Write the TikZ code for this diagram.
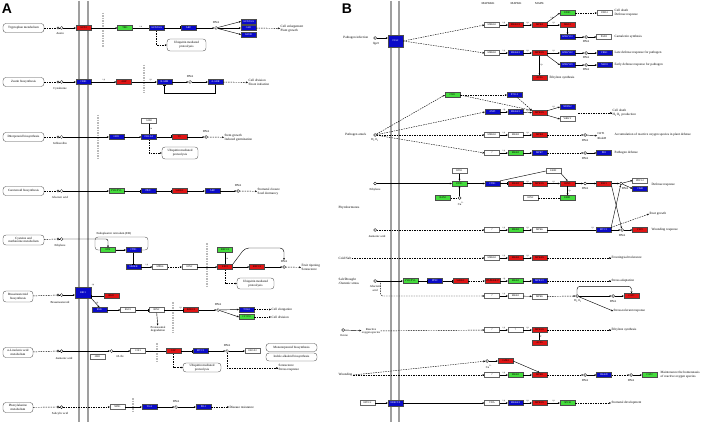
\documentclass[tikz,border=0pt]{standalone}
\usepackage{fontspec}
\setmainfont{Liberation Serif}
\setsansfont{Liberation Sans}
\usetikzlibrary{arrows.meta}

\begin{document}
\begin{tikzpicture}[x=1pt, y=-1pt, line width=0.42pt,
    >={Stealth[length=2pt,width=1.8pt]},
    gene/.style={rectangle, draw=black!70, line width=0.25pt, minimum width=15pt, minimum height=5pt, inner sep=0pt, font=\fontsize{2.6}{3}\selectfont},
    rgene/.style={gene, fill=kred},
    bgene/.style={gene, fill=kblue, text=white},
    ggene/.style={gene, fill=kgreen},
    wgene/.style={gene, fill=white, draw=black!60},
    mapbox/.style={rectangle, rounded corners=3pt, draw=black!70, line width=0.35pt, minimum width=41pt, minimum height=9pt, inner sep=0.5pt, align=center, font=\fontsize{3.2}{3.6}\selectfont},
    cpd/.style={circle, draw, line width=0.35pt, fill=white, minimum size=3pt, inner sep=0pt},
    txt/.style={inner sep=0.5pt, align=left, font=\fontsize{3.3}{3.8}\selectfont},
    lbl/.style={inner sep=0.3pt, font=\fontsize{3}{3.3}\selectfont},
    plab/.style={inner sep=0.3pt, above, font=\fontsize{2.4}{2.6}\selectfont},
    act/.style={->},
    dact/.style={->, dash pattern=on 1.5pt off 1pt},
    dline/.style={dash pattern=on 1.5pt off 1pt},
    inh/.style={-{Bar[width=3pt]}},
    nucl/.style={draw=gray!55, line width=1.3pt, dash pattern=on 1.5pt off 1pt},
    membrane/.style={draw=gray!75, line width=1.2pt}]
    \definecolor{kred}{HTML}{E01414}
    \definecolor{kblue}{HTML}{0A0AC8}
    \definecolor{kgreen}{HTML}{44DC3C}
    \path[use as bounding box, fill=white] (0,0) rectangle (708,422);
    %\draw[help lines, step=10] (0,0) grid (708,422);

    %% panel A
    \node[font=\sffamily\bfseries\fontsize{14}{14}\selectfont] (labA) at (7,9) {A};
    \draw[membrane] (79,1) -- (79,422);
    \draw[membrane] (88,1) -- (88,422);
    \draw[nucl] (103,13) -- (103,48);
    \draw[nucl] (144,65) -- (144,93);
    \draw[nucl] (98,115) -- (98,160);
    \draw[nucl] (207,243) -- (207,288);
    \draw[nucl] (173,302) -- (173,333);
    \draw[nucl] (157,343) -- (157,361);
    \draw[nucl] (133,398) -- (133,413);

    % auxin
    \node[mapbox] (trp) at (23.5,28) {Tryptophan metabolism};
    \node[cpd, minimum size=2.4pt] (auxA) at (58,28) {};
    \node[cpd] (aux) at (61.5,28) {};
    \node[lbl] (auxL) at (60,33.5) {Auxin};
    \node[rgene] (aux1) at (83.5,28) {AUX1};
    \node[ggene] (tir1) at (125,28) {TIR1};
    \node[bgene] (iaa) at (156.5,28) {AUX/IAA};
    \node[bgene] (arf) at (188.5,28) {ARF};
    \node[cpd] (dnaA1) at (216,28) {};
    \node[lbl] (dnaA1L) at (216,22.5) {DNA};
    \node[bgene] (iaa2) at (248.5,21.5) {AUX/IAA};
    \node[bgene] (gh3) at (248.5,28) {GH3};
    \node[bgene] (saur) at (248.5,34.5) {SAUR};
    \node[txt, anchor=west] (growA) at (280,28.5) {Cell enlargement\\Plant growth};
    \node[mapbox, minimum width=39pt, minimum height=12pt] (ubA1) at (186.5,45) {Ubiquitin mediated\\proteolysis};
    \draw[dline] (trp) -- (auxA);
    \draw (auxA) -- (aux);
    \draw[act] (aux) -- (aux1);
    \draw[act] (aux1) -- (tir1);
    \draw (tir1) -- node[plab] {+u} (iaa);
    \draw[inh] (iaa) -- (arf);
    \draw[act] (arf) -- (dnaA1);
    \draw[act] (dnaA1) -- (iaa2.west);
    \draw[act] (dnaA1) -- (gh3.west);
    \draw[act] (dnaA1) -- (saur.west);
    \draw[dact] (gh3) -- (growA);
    \draw[dact] (iaa.south) |- (ubA1.west);

    % cytokinine
    \node[mapbox] (zea) at (23.5,82) {Zeatin biosynthesis};
    \node[cpd, minimum size=2.4pt] (ckA) at (58,82) {};
    \node[cpd] (ck) at (61.5,82) {};
    \node[lbl] (ckL) at (60,88.5) {Cytokinine};
    \node[bgene] (cre1) at (83.5,82) {CRE1};
    \node[rgene] (ahp) at (124,82) {AHP};
    \node[bgene] (barr) at (164.5,82) {B-ARR};
    \node[cpd] (dnaA2) at (190,82) {};
    \node[lbl] (dnaA2L) at (190,76.5) {DNA};
    \node[bgene] (aarr) at (215.5,82) {A-ARR};
    \node[txt, anchor=west] (divA) at (248,82.5) {Cell division\\Shoot initiation};
    \draw[dline] (zea) -- (ckA);
    \draw (ckA) -- (ck);
    \draw[act] (ck) -- (cre1);
    \draw[act] (cre1) -- node[plab] {+p} (ahp);
    \draw[act] (ahp) -- node[plab, pos=0.75] {+p} (barr);
    \draw[act] (barr) -- (dnaA2);
    \draw[act] (dnaA2) -- (aarr);
    \draw[dact] (aarr) -- (divA);
    \draw[inh] (aarr.south) -- ++(0,9) -| (barr.south);

    % gibberellin
    \node[mapbox] (dit) at (23.5,137) {Diterpenoid biosynthesis};
    \node[cpd, minimum size=2.4pt] (gaA) at (58,137) {};
    \node[cpd] (ga) at (61.5,137) {};
    \node[lbl] (gaL) at (60,143.5) {Gibberellin};
    \node[bgene] (gid1) at (116.5,137) {GID1};
    \node[bgene] (della) at (149,137) {DELLA};
    \node[wgene] (gid2) at (149,121) {GID2};
    \node[rgene] (tf) at (179.5,137) {TF};
    \node[cpd] (dnaA3) at (206,137) {};
    \node[lbl] (dnaA3L) at (206,131.5) {DNA};
    \node[txt, anchor=west] (stemA) at (224,137.5) {Stem growth\\Induced germination};
    \node[mapbox, minimum width=36pt, minimum height=12pt] (ubA3) at (180,153) {Ubiquitin mediated\\proteolysis};
    \draw[dline] (dit) -- (gaA);
    \draw (gaA) -- (ga);
    \draw[act] (ga) -- (gid1);
    \draw[act] (gid1) -- (della);
    \draw (gid2) -- node[plab, right] {+u} (della);
    \draw[inh] (della) -- (tf);
    \draw[act] (tf) -- (dnaA3);
    \draw[dact] (dnaA3) -- (stemA);
    \draw[dact] (della.south) |- (ubA3.west);

    % abscisic acid
    \node[mapbox] (car) at (23.5,191) {Carotenoid biosynthesis};
    \node[cpd, minimum size=2.4pt] (abaA) at (58,191) {};
    \node[cpd] (aba) at (61.5,191) {};
    \node[lbl] (abaL) at (60,197.5) {Abscisic acid};
    \node[ggene] (pyl) at (116.5,191) {PYR/PYL};
    \node[bgene] (pp2c) at (148.5,191) {PP2C};
    \node[rgene] (snrk) at (179.5,191) {SnRK2};
    \node[bgene] (abf) at (212.5,191) {ABF};
    \node[cpd] (dnaA4) at (238,191) {};
    \node[lbl] (dnaA4L) at (238,185.5) {DNA};
    \node[txt, anchor=west] (stomA) at (257,191.5) {Stomatal closure\\Seed dormancy};
    \draw[dline] (car) -- (abaA);
    \draw (abaA) -- (aba);
    \draw[act] (aba) -- (pyl);
    \draw[inh] (pyl) -- (pp2c);
    \draw[inh] (pp2c) -- (snrk);
    \draw[act] (snrk) -- (abf);
    \draw[act] (abf) -- (dnaA4);
    \draw[dact] (dnaA4) -- (stomA);

    % ethylene
    \node[mapbox, minimum height=10pt] (cys) at (23.5,240) {Cysteine and\\methionine metabolism};
    \node[cpd, minimum size=2.4pt] (ethA) at (58,239) {};
    \node[cpd] (eth) at (61.5,239) {};
    \node[lbl] (ethL) at (60,246) {Ethylene};
    \node[draw=black!70, line width=0.35pt, rounded corners=3pt, minimum width=53pt, minimum height=13pt] (er) at (121.5,243.5) {};
    \node[lbl, anchor=south west] (erL) at (96,235.5) {Endoplasmic reticulum (ER)};
    \node[ggene] (etr) at (108,250) {ETR};
    \node[bgene] (ctr1) at (133.5,250) {CTR1};
    \node[bgene] (simkk) at (133.5,267) {SIMKK};
    \node[wgene] (mpk6) at (160,267) {MPK6};
    \node[wgene] (ein2) at (189.5,267) {EIN2};
    \node[ggene] (ebf) at (225,250) {EBF1/2};
    \node[rgene] (ein3) at (225,267) {EIN3};
    \node[rgene] (erf) at (257,267) {ERF1/2};
    \node[cpd] (dnaA5) at (284,267) {};
    \node[lbl] (dnaA5L) at (284,261.5) {DNA};
    \node[txt, anchor=west] (ripA) at (301,267.5) {Fruit ripening\\Senescence};
    \node[mapbox, minimum width=37pt, minimum height=11pt] (ubA5) at (255.5,283.5) {Ubiquitin mediated\\proteolysis};
    \draw[dline] (cys) -- (ethA);
    \draw (ethA) -- (eth);
    \draw[act, rounded corners=2pt] (eth) -| (etr.north);
    \draw[act] (etr) -- (ctr1);
    \draw[inh] (ctr1) -- (simkk);
    \draw[act] (simkk) -- node[plab] {+p} (mpk6);
    \draw[dact] (mpk6) -- (ein2);
    \draw[act] (ein2) -- (ein3);
    \draw (ebf) -- node[plab, right] {+u} (ein3);
    \draw[act] (ein3) -- (erf);
    \draw[act] (erf) -- (dnaA5);
    \draw[dact] (dnaA5) -- (ripA);
    \draw[act, rounded corners=4pt] (ein3.north east) -- (245,248) -- (284,248) -- (dnaA5L.north);
    \draw[dact] (ein3.south) |- (ubA5.west);

    % brassinosteroid
    \node[mapbox, minimum width=30pt, minimum height=11pt] (brs) at (18,296.5) {Brassinosteroid\\biosynthesis};
    \node[cpd, minimum size=2.4pt] (brA) at (58,295) {};
    \node[cpd] (br) at (61.5,295) {};
    \node[lbl] (brL) at (60,302) {Brassinosteroid};
    \node[bgene, minimum width=16pt, minimum height=11pt] (bri1) at (83,292.5) {BRI1};
    \node[plab, anchor=south west] (bri1P) at (bri1.north east) {+p};
    \node[rgene] (bki1) at (111.5,296) {BKI1};
    \node[bgene] (bsk) at (99.5,310) {BSK};
    \node[wgene] (bsu1) at (128,310) {BSU1};
    \node[wgene] (bin2) at (156.5,310) {BIN2};
    \node[lbl, align=center] (prot) at (158,329) {Proteasomal\\degradation};
    \node[rgene] (bzr) at (191,310) {BZR1/2};
    \node[cpd] (dnaA6) at (218,310) {};
    \node[lbl] (dnaA6L) at (218,304.5) {DNA};
    \node[bgene] (tch4) at (246.5,309.5) {TCH4};
    \node[ggene] (cycd3) at (246.5,317) {CYCD3};
    \node[txt, anchor=west] (elonA) at (271,309.5) {Cell elongation};
    \node[txt, anchor=west] (cdivA) at (271,317) {Cell division};
    \draw[dline] (brs) -- (brA);
    \draw (brA) -- (br);
    \draw[act] (br) -- (bri1.west |- br);
    \draw[inh] (bki1) -- (bri1.east |- bki1);
    \draw[act] (bri1.south east) -- node[plab, right] {+p} (bsk.north);
    \draw[act] (bsk) -- (bsu1);
    \draw[inh] (bsu1) -- (bin2);
    \draw[act] (bin2) -- (prot);
    \draw[inh] (bin2) -- node[plab, pos=0.85] {+p} (bzr);
    \draw[act] (bzr) -- (dnaA6);
    \draw[act] (dnaA6) -- (tch4.west);
    \draw[act] (dnaA6) -- (cycd3.west);
    \draw[dact] (tch4) -- (elonA);
    \draw[dact] (cycd3) -- (cdivA);

    % jasmonic acid
    \node[mapbox, minimum width=30pt, minimum height=10pt] (lin) at (18,352.5) {α-Linolenic acid\\metabolism};
    \node[cpd, minimum size=2.4pt] (jaA) at (58,351) {};
    \node[cpd] (ja) at (61.5,351) {};
    \node[lbl] (jaL) at (64,358.5) {Jasmonic acid};
    \node[wgene] (jar1) at (97.5,356.5) {JAR1};
    \node[cpd] (jaile) at (111.5,351) {};
    \node[lbl] (jaileL) at (120,356.5) {JA-Ile};
    \node[wgene] (coi1) at (138,351) {COI1};
    \node[rgene] (jaz) at (173.5,351) {JAZ};
    \node[bgene] (myc2) at (200.5,351) {MYC2};
    \node[cpd] (dnaA7) at (227,351) {};
    \node[lbl] (dnaA7L) at (227,345.5) {DNA};
    \node[wgene] (orca) at (252.5,351) {ORCA3};
    \node[mapbox, minimum width=51pt, minimum height=8pt] (mono) at (291.5,347.5) {Monoterpenoid biosynthesis};
    \node[mapbox, minimum width=51pt, minimum height=8pt] (indo) at (291.5,357) {Indole alkaloid biosynthesis};
    \node[txt, anchor=west] (senA) at (278,368) {Senescence\\Stress response};
    \node[mapbox, minimum width=38pt, minimum height=9pt] (ubA7) at (202,367.5) {Ubiquitin mediated\\proteolysis};
    \draw[dline] (lin) -- (jaA);
    \draw (jaA) -- (ja);
    \draw[act] (ja) -- (jaile);
    \draw[act] (jaile) -- (coi1);
    \draw (coi1) -- node[plab, below, pos=0.3] {+u} (jaz);
    \draw[inh] (jaz) -- (myc2);
    \draw[act] (myc2) -- (dnaA7);
    \draw[act] (dnaA7) -- (orca);
    \draw[dact] (dnaA7) |- (senA.west);
    \draw[dact] (jaz.south) |- (ubA7.west);

    % salicylic acid
    \node[mapbox, minimum width=30pt, minimum height=10pt] (phe) at (18,407.5) {Phenylalanine\\metabolism};
    \node[cpd, minimum size=2.4pt] (saA) at (58,407) {};
    \node[cpd] (sa) at (61.5,407) {};
    \node[lbl] (saL) at (60,413.5) {Salicylic acid};
    \node[wgene] (npr1) at (117.5,407) {NPR1};
    \node[bgene] (tga) at (149.5,407) {TGA};
    \node[cpd] (dnaA8) at (176,407) {};
    \node[lbl] (dnaA8L) at (176,401.5) {DNA};
    \node[bgene] (pr1) at (203.5,407) {PR-1};
    \node[txt, anchor=west] (disA) at (229,407) {Disease resistance};
    \draw[dline] (phe) -- (saA);
    \draw (saA) -- (sa);
    \draw[dact] (sa) -- (npr1);
    \draw[act] (npr1) -- (tga);
    \draw[act] (tga) -- (dnaA8);
    \draw[act] (dnaA8) -- (pr1);
    \draw[dact] (pr1) -- (disA);

    %% panel B
    \node[font=\sffamily\bfseries\fontsize{14}{14}\selectfont] (labB) at (347,9) {B};
    \draw[membrane] (391,1) -- (391,422);
    \draw[membrane] (399,1) -- (399,422);
    \node[lbl] (hKKK) at (488,3.5) {MAPKKK};
    \node[lbl] (hKK) at (516,3.5) {MAPKK};
    \node[lbl] (hK) at (539.5,3.5) {MAPK};

    % pathogen infection
    \node[txt, anchor=east] (infB) at (369,38) {Pathogen infection};
    \node[cpd] (flg) at (375,38) {};
    \node[lbl] (flgL) at (376,43.5) {flg22};
    \node[bgene, minimum height=12pt] (fls2) at (395.5,41) {FLS2};
    \node[wgene] (mekk1) at (492,25) {MEKK1};
    \node[rgene] (mkk12) at (515.5,25) {MKK1/2};
    \node[rgene] (mpk4) at (539.5,25) {MPK4};
    \node[ggene] (eds1) at (567.5,13) {EDS1};
    \node[wgene] (pad4) at (604.5,13) {PAD4};
    \node[txt, anchor=west] (deathB) at (614,13) {Cell death\\Defense response};
    \node[rgene] (mks1) at (567.5,25) {MKS1};
    \node[bgene] (wrky33) at (567.5,37) {WRKY33};
    \node[cpd] (dnaB1) at (586,37) {};
    \node[lbl] (dnaB1L) at (586,42) {DNA};
    \node[wgene] (pad3) at (604,37) {PAD3};
    \node[txt, anchor=west] (camB) at (614,37) {Camalexin synthesis};
    \draw[act] (flg) -- (fls2.west |- flg);
    \draw[dact] (fls2.east) -- (mekk1.west);
    \draw[act] (mekk1) -- node[plab] {+p} (mkk12);
    \draw[act] (mkk12) -- node[plab] {+p} (mpk4);
    \draw[act] (mpk4.north east) -- node[plab, left] {+p} (eds1.west);
    \draw[dact] (eds1) -- (pad4);
    \draw[act] (mpk4) -- node[plab] {+p} (mks1);
    \draw[act] (mks1) -- (wrky33);
    \draw[act] (wrky33) -- (dnaB1);
    \draw[act] (dnaB1) -- (pad3);

    \node[wgene] (mekk2) at (492,53) {MEKK1};
    \node[bgene] (mkk45) at (515.5,53) {MKK4/5};
    \node[rgene] (mpk36) at (539.5,53) {MPK3/6};
    \node[bgene] (wrky22) at (567.5,53) {WRKY22};
    \node[cpd] (dnaB2) at (586,53) {};
    \node[lbl] (dnaB2L) at (586,58) {DNA};
    \node[bgene] (frk1) at (604.5,53) {FRK1};
    \node[txt, anchor=west] (lateB) at (614,53) {Late defense response for pathogen};
    \node[bgene] (wrky29) at (567.5,65) {WRKY29};
    \node[cpd] (dnaB3) at (586,65) {};
    \node[lbl] (dnaB3L) at (586,70) {DNA};
    \node[bgene] (nho1) at (604.5,65) {NHO1};
    \node[txt, anchor=west] (earlyB) at (614,65) {Early defense response for pathogen};
    \node[rgene] (acs6) at (539.5,78) {ACS6};
    \node[txt, anchor=west] (ethsB) at (549,78) {Ethylene synthesis};
    \draw[dact] (fls2.east) -- (mekk2.west);
    \draw[act] (mekk2) -- node[plab] {+p} (mkk45);
    \draw[act] (mkk45) -- node[plab] {+p} (mpk36);
    \draw[act] (mpk36) -- node[plab] {+p} (wrky22);
    \draw[act] (mpk36.south east) -- (wrky29.west);
    \draw[act] (wrky22) -- (dnaB2);
    \draw[act] (dnaB2) -- (frk1);
    \draw[act] (wrky29) -- (dnaB3);
    \draw[act] (dnaB3) -- (nho1);
    \draw[act] (mpk36) -- node[plab, right] {+p} (acs6);

    % pathogen attack
    \node[txt, anchor=east] (attB) at (367,135) {Pathogen attack};
    \node[cpd] (h2o2) at (375,135) {};
    \node[lbl] (h2o2L) at (375,140.5) {H\textsubscript{2}O\textsubscript{2}};
    \node[ggene] (oxi1) at (452.5,95) {OXI1};
    \node[bgene] (pti) at (514.5,95) {PTI1-2};
    \node[bgene] (anp1) at (492.5,112) {ANP1};
    \node[bgene] (mkk45b) at (515.5,112) {MKK4/5};
    \node[rgene] (mpk36b) at (539.5,113) {MPK3/6};
    \node[bgene] (ndpk2) at (567.5,107) {NDPK2};
    \node[wgene] (wrkyb) at (567.5,119) {WRKY};
    \coordinate (cdB) at (578,113);
    \node[txt, anchor=west] (rosB) at (612,113) {Cell death\\H\textsubscript{2}O\textsubscript{2} production};
    \draw[dact] (h2o2) -- (oxi1.west);
    \draw[dact] (h2o2) -- (anp1.west);
    \draw[dact] (oxi1) -- (pti);
    \draw[dact] (oxi1.east) -- (mpk36b.north west);
    \draw[dact] (pti) -- (mpk36b.north west);
    \draw[act] (anp1) -- node[plab] {+p} (mkk45b);
    \draw[act] (mkk45b) -- node[plab] {+p} (mpk36b);
    \draw[act] (mpk36b) -- node[plab] {+p} (ndpk2.west);
    \draw[act] (mpk36b) -- (wrkyb.west);
    \draw[dact] (cdB) -- (rosB);

    \node[wgene] (mekk3) at (492,135) {MEKK1};
    \node[wgene] (mkk2) at (515.5,135) {MKK2};
    \node[rgene] (mpk4b) at (539.5,135) {MPK4};
    \node[cpd] (dnaB4) at (585,135) {};
    \node[lbl] (dnaB4L) at (585,140.5) {DNA};
    \node[lbl, align=left, anchor=west] (gstB) at (597,136) {GST1\\[1.5pt]RbohD};
    \node[txt, anchor=west] (accB) at (614,135) {Accumulation of reactive oxygen species in plant defense};
    \node[wgene] (unk1) at (492,153) {?};
    \node[ggene] (mkk3) at (515.5,153) {MKK3};
    \node[bgene] (mpk7) at (539.5,153) {MPK7};
    \node[cpd] (dnaB5) at (585,153) {};
    \node[lbl] (dnaB5L) at (585,158.5) {DNA};
    \node[bgene] (pr1B) at (604,153) {PR1};
    \node[txt, anchor=west] (defB) at (614,153) {Pathogen defense};
    \draw[dact] (h2o2) -- (mekk3);
    \draw[dact] (h2o2) -- (unk1.west);
    \draw[act] (mekk3) -- node[plab] {+p} (mkk2);
    \draw[act] (mkk2) -- node[plab] {+p} (mpk4b);
    \draw[dact] (mpk4b) -- (dnaB4);
    \draw[act] (dnaB4) -- (gstB);
    \draw[act] (unk1) -- node[plab] {+p} (mkk3);
    \draw[act] (mkk3) -- (mpk7);
    \draw[dact] (mpk7) -- (dnaB5);
    \draw[act] (dnaB5) -- (pr1B);

    % ethylene
    \node[cpd] (ethB) at (375,183.5) {};
    \node[lbl] (ethBL) at (375,189.5) {Ethylene};
    \node[txt, anchor=west] (phyB) at (338,208) {Phytohormones};
    \node[wgene] (rte1) at (459.5,171) {RTE1};
    \node[ggene] (etr1) at (459.5,183.5) {ETR1};
    \node[ggene] (ran1) at (443,198) {RAN1};
    \node[cpd] (cu) at (459.5,198) {};
    \node[lbl] (cuL) at (461,204) {Cu\textsuperscript{2+}};
    \node[bgene] (ctr1B) at (492.5,183.5) {CTR1};
    \node[rgene] (mkk9) at (515.5,183.5) {MKK9};
    \node[rgene] (mpk36c) at (539.5,183.5) {MPK3/6};
    \node[wgene] (ebf2) at (553.5,171) {EBF2};
    \node[rgene] (ein3B) at (567.5,183.5) {EIN3};
    \node[wgene] (ein2B) at (530.5,198) {EIN2};
    \node[ggene] (ebf1B) at (567.5,198) {EBF1};
    \node[cpd] (dnaB6) at (585,183.5) {};
    \node[lbl] (dnaB6L) at (585,189) {DNA};
    \node[rgene] (erf1) at (604,183.5) {ERF1};
    \node[cpd] (dnaB7) at (621,183.5) {};
    \node[lbl] (dnaB7L) at (625,189) {DNA};
    \node[wgene] (pdf) at (640,180.5) {PDF1.2};
    \node[bgene] (chib) at (640,188.5) {ChiB};
    \node[txt, anchor=west] (defrB) at (651,185) {Defense response};
    \draw[act] (ethB) -- (etr1);
    \draw[act] (rte1) -- (etr1);
    \draw[dline] (ran1) -- (cu);
    \draw[act] (cu) -- (etr1);
    \draw[act] (etr1) -- (ctr1B);
    \draw[inh] (ctr1B) -- (mkk9);
    \draw[act] (mkk9) -- node[plab] {+p} (mpk36c);
    \draw[act] (mpk36c) -- node[plab] {+p} (ein3B);
    \draw (ctr1B.north east) -- (ebf2.west);
    \draw[act] (ebf2.south east) -- (ein3B.north);
    \draw[act] (ein3B) -- node[plab, right] {+p} (ebf1B);
    \draw[dline] (ein2B) -- (ebf1B);
    \draw[act] (ein3B) -- (dnaB6);
    \draw[act] (dnaB6) -- (erf1);
    \draw[act] (erf1) -- (dnaB7);
    \draw[act] (dnaB7) -- (pdf.west);
    \draw[act] (dnaB7) -- (chib.west);

    % jasmonic acid
    \node[cpd] (jaB) at (375,230) {};
    \node[lbl] (jaBL) at (377,236) {Jasmonic acid};
    \node[wgene] (unk2) at (492,230) {?};
    \node[ggene] (mkk3b) at (515.5,230) {MKK3};
    \node[wgene] (mpk6b) at (539.5,230) {MPK6};
    \node[bgene] (myc2B) at (603.5,230) {MYC2};
    \node[cpd] (dnaB8) at (622,230) {};
    \node[lbl] (dnaB8L) at (622,235.5) {DNA};
    \node[rgene] (vsp2) at (640,230) {VSP2};
    \node[txt, anchor=west] (woundB) at (651,230) {Wounding response};
    \node[txt, anchor=west] (rootB) at (649,214) {Root growth};
    \draw[dact] (jaB) -- (unk2);
    \draw[act] (unk2) -- node[plab] {+p} (mkk3b);
    \draw[act] (mkk3b) -- node[plab] {+p} (mpk6b);
    \draw (mpk6b) -- node[plab, pos=0.93] {+p} (myc2B);
    \draw[act] (myc2B) -- (dnaB8);
    \draw[act] (dnaB8) -- (vsp2);
    \draw[dact] (myc2B.north east) -- (rootB.west);
    \draw[act] (erf1.south east) -- (dnaB8);
    \draw[act] (myc2B.north east) -- (dnaB7);

    % cold and salt
    \node[txt, anchor=west] (coldB) at (338,258) {Cold/Salt};
    \node[wgene] (mekk4) at (492,258) {MEKK1};
    \node[rgene] (mkk2b) at (515.5,258) {MKK2};
    \node[rgene] (mpk46) at (539.5,258) {MPK4/6};
    \node[txt, anchor=west] (frzB) at (611,258) {Freezing/salt tolerance};
    \draw[dact] (coldB) -- (mekk4);
    \draw[act] (mekk4) -- node[plab] {+p} (mkk2b);
    \draw[act] (mkk2b) -- node[plab] {+p} (mpk46);
    \draw[dact] (mpk46) -- (frzB);

    % drought and osmotic stress
    \node[txt, anchor=west] (drB) at (338,281) {Salt/Drought\\/Osmotic stress};
    \node[cpd] (abaB) at (375,281) {};
    \node[lbl, align=center] (abaBL) at (375,288.5) {Abscisic\\acid};
    \node[ggene] (pyl2) at (410.5,281) {PYR/PYL};
    \node[bgene] (pp2c2) at (435,281) {PP2C};
    \node[rgene] (snrk2) at (460.5,281) {SnRK2};
    \node[rgene] (mkkk17) at (492.5,281) {MAPKKK17};
    \node[ggene] (mkk3c) at (515.5,281) {MKK3};
    \node[bgene] (mpk1) at (539.5,281) {MPK1/2};
    \node[txt, anchor=west] (adaB) at (611,281) {Stress adaptation};
    \node[wgene] (unk3) at (492,296) {?};
    \node[wgene] (mkk1) at (515.5,296) {MKK1};
    \node[wgene] (mpk6c) at (539.5,296.5) {MPK6};
    \node[cpd] (h2o2b) at (577,296) {};
    \node[lbl] (h2o2bL) at (578,301.5) {H\textsubscript{2}O\textsubscript{2}};
    \node[cpd] (dnaB9) at (613,296) {};
    \node[lbl] (dnaB9L) at (613,301.5) {DNA};
    \node[rgene] (cat1) at (631.5,296) {CAT1};
    \node[txt, anchor=west] (tolB) at (613,311) {Stress-tolerant response};
    \draw[act] (abaB) -- (pyl2);
    \draw[inh] (pyl2) -- (pp2c2);
    \draw[inh] (pp2c2) -- (snrk2);
    \draw[dact] (snrk2) -- (mkkk17);
    \draw[act] (mkkk17) -- node[plab] {+p} (mkk3c);
    \draw[act] (mkk3c) -- (mpk1);
    \draw[dact] (mpk1) -- (adaB);
    \draw[dact, rounded corners=2pt] (abaB.east) -- ++(4,0) |- (unk3);
    \draw[act] (unk3) -- node[plab] {+p} (mkk1);
    \draw[act] (mkk1) -- (mpk6c);
    \draw[dact] (mpk6c) -- (h2o2b);
    \draw[act] (h2o2b) -- (dnaB9);
    \draw[act] (dnaB9) -- (cat1);
    \draw[act, rounded corners=3pt] (h2o2b.north) -- ++(0,-8) -| (cat1.north);
    \draw[act] (h2o2b) -- (tolB.west);

    % ozone
    \node[cpd] (o3) at (343,330) {};
    \node[lbl] (o3L) at (344,335.5) {Ozone};
    \node[lbl, align=center] (rosB2) at (371,331) {Reactive\\oxygen species};
    \node[wgene] (unk4) at (492,330) {?};
    \node[wgene] (unk5) at (515.5,330) {?};
    \node[rgene] (mpk36d) at (539.5,330) {MPK3/6};
    \node[rgene] (acs6b) at (539.5,343) {ACS6};
    \node[txt, anchor=west] (ethsB2) at (611,330) {Ethylene synthesis};
    \draw[act] (o3) -- (rosB2);
    \draw[dact] (rosB2) -- (unk4);
    \draw[act] (unk4) -- node[plab] {+p} (unk5);
    \draw[act] (unk5) -- node[plab] {+p} (mpk36d);
    \draw[dact] (mpk36d) -- (ethsB2);
    \draw (mpk36d) -- node[plab, right] {P} (acs6b);

    % wounding
    \node[txt, anchor=west] (wndB) at (338,375) {Wounding};
    \node[cpd] (ca) at (487,361) {};
    \node[lbl] (caL) at (489,366.5) {Ca\textsuperscript{2+}};
    \node[rgene] (cam4) at (505.5,361) {CaM4};
    \node[wgene] (unk6) at (492,375) {?};
    \node[ggene] (mkk3d) at (515.5,375) {MKK3};
    \node[rgene] (mpk8) at (539.5,375) {MPK8};
    \node[cpd] (dnaB10) at (585,375) {};
    \node[lbl] (dnaB10L) at (585,380.5) {DNA};
    \node[bgene] (rbohd) at (604,375) {RbohD};
    \node[cpd] (dnaB11) at (631,375) {};
    \node[lbl] (dnaB11L) at (631,380.5) {DNA};
    \node[ggene] (cat2) at (649.5,375) {CAT2};
    \node[txt, anchor=west] (homB) at (660,375) {Maintenance the homeostasis\\of reactive oxygen species};
    \draw[dact] (wndB.east) -- (ca);
    \draw[dact] (wndB) -- (unk6);
    \draw[act] (ca) -- (cam4);
    \draw[act] (cam4.east) -- (mpk8.north);
    \draw[act] (unk6) -- node[plab] {+p} (mkk3d);
    \draw[act] (mkk3d) -- (mpk8);
    \draw[dact] (mpk8) -- (dnaB10);
    \draw[act] (dnaB10) -- (rbohd);
    \draw[dact] (rbohd) -- (dnaB11);
    \draw[act] (dnaB11) -- (cat2);

    % stomatal development
    \node[wgene] (epf) at (367.5,403) {EPF1/2};
    \node[bgene, minimum height=6pt] (erl) at (395.5,403) {ERECTA};
    \node[wgene] (yda) at (492,403) {YDA};
    \node[bgene] (mkk45c) at (515.5,403) {MKK4/5};
    \node[rgene] (mpk36e) at (539.5,403) {MPK3/6};
    \node[ggene] (spch) at (567.5,403) {SPCH};
    \node[txt, anchor=west] (stoB) at (611,403) {Stomatal development};
    \draw[act] (epf) -- (erl);
    \draw[act] (erl) -- (yda);
    \draw[act] (yda) -- node[plab] {+p} (mkk45c);
    \draw[act] (mkk45c) -- node[plab] {+p} (mpk36e);
    \draw[act] (mpk36e) -- node[plab] {+p} (spch);
    \draw[dact] (spch) -- (stoB);
\end{tikzpicture}
\end{document}
